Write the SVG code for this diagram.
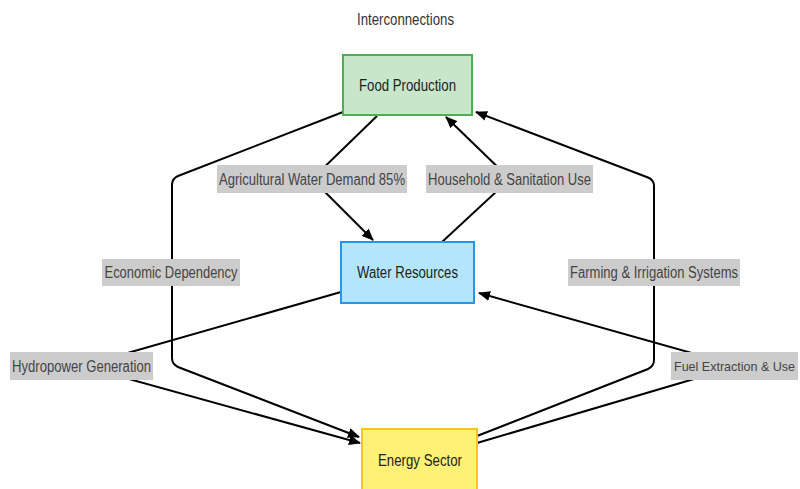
<svg xmlns="http://www.w3.org/2000/svg" width="800" height="489" viewBox="0 0 800 489">
  <defs>
    <marker id="arrow" viewBox="0 0 12 10" refX="11" refY="5" markerWidth="12" markerHeight="10" markerUnits="userSpaceOnUse" orient="auto">
      <path d="M0,0 L12,5 L0,10 Z" fill="#000"/>
    </marker>
    <style>
      text { font-family: "Liberation Sans", Arial, sans-serif; font-size: 16px; fill: #333; }
      .title { fill: #333; }
      .node rect { stroke-width: 2; }
      .node text { fill: #222; }
      .edge { fill: none; stroke: #000; stroke-width: 2; marker-end: url(#arrow); }
      .lbl rect { fill: #cccccc; }
      .lbl text { fill: #444; }
    </style>
  </defs>
  <rect width="800" height="489" fill="#fff"/>
  <text class="title" x="405.5" y="19" text-anchor="middle" dominant-baseline="central" textLength="97" lengthAdjust="spacingAndGlyphs">Interconnections</text>

  <g id="connectors">
    <path class="edge" d="M377,116 L312,179 L373,240"/>
    <path class="edge" d="M442,242 L510,179 L446,117"/>
    <path class="edge" d="M343,112 L178,176 Q172,178.5 172,185 L172,358 Q172,364 178,367 L359,437"/>
    <path class="edge" d="M341,292 L82,366 L360,443"/>
    <path class="edge" d="M477,436 L648,369 Q654,366 654,360 L654,186 Q654,180 648,177.5 L476,112"/>
    <path class="edge" d="M477,443 L738,366 L479,293"/>
  </g>

  <g id="edge-labels">
    <g class="lbl" id="label-agri"><rect x="217" y="165" width="190" height="28"/><text x="312" y="179" text-anchor="middle" dominant-baseline="central" textLength="186" lengthAdjust="spacingAndGlyphs">Agricultural Water Demand 85%</text></g>
    <g class="lbl" id="label-household"><rect x="426" y="165" width="167" height="28"/><text x="509.5" y="179" text-anchor="middle" dominant-baseline="central" textLength="163" lengthAdjust="spacingAndGlyphs">Household &amp; Sanitation Use</text></g>
    <g class="lbl" id="label-economic"><rect x="102" y="259" width="138" height="27"/><text x="171" y="272.5" text-anchor="middle" dominant-baseline="central" textLength="133" lengthAdjust="spacingAndGlyphs">Economic Dependency</text></g>
    <g class="lbl" id="label-farming"><rect x="568" y="259" width="172" height="27"/><text x="654" y="272.5" text-anchor="middle" dominant-baseline="central" textLength="168" lengthAdjust="spacingAndGlyphs">Farming &amp; Irrigation Systems</text></g>
    <g class="lbl" id="label-hydro"><rect x="10" y="352" width="143" height="28"/><text x="81.5" y="366" text-anchor="middle" dominant-baseline="central" textLength="139" lengthAdjust="spacingAndGlyphs">Hydropower Generation</text></g>
    <g class="lbl" id="label-fuel"><rect x="671" y="352" width="127" height="28"/><text x="734.5" y="366" text-anchor="middle" dominant-baseline="central" style="font-size:13px" textLength="121" lengthAdjust="spacingAndGlyphs">Fuel Extraction &amp; Use</text></g>
  </g>

  <g id="node-food" class="node">
    <rect x="343" y="55" width="129" height="60" fill="#c8e6c9" stroke="#4caf50"/>
    <text x="407.5" y="85" text-anchor="middle" dominant-baseline="central" textLength="97" lengthAdjust="spacingAndGlyphs">Food Production</text>
  </g>
  <g id="node-water" class="node">
    <rect x="341" y="242" width="133" height="61" fill="#b3e5fc" stroke="#2196f3"/>
    <text x="407.5" y="272" text-anchor="middle" dominant-baseline="central" textLength="101" lengthAdjust="spacingAndGlyphs">Water Resources</text>
  </g>
  <g id="node-energy" class="node">
    <rect x="362" y="429" width="115" height="64" fill="#fff176" stroke="#fbc02d"/>
    <text x="420" y="460" text-anchor="middle" dominant-baseline="central" textLength="84" lengthAdjust="spacingAndGlyphs">Energy Sector</text>
  </g>
</svg>
